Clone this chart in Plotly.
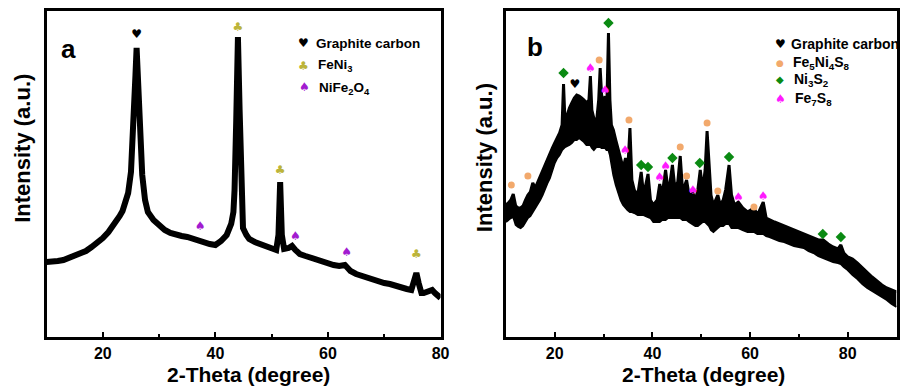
import plotly.graph_objects as go

# ---------------- Panel a data (2-theta, intensity a.u.) ----------------
a_theta = [10, 11, 12, 13, 14, 15, 16, 17, 18, 19, 20, 21, 22, 23, 23.5, 24, 24.5, 25,
           25.5, 25.8, 26.0, 26.2, 26.5, 27.0, 27.5, 28.0, 29, 30, 31, 32, 33, 34, 35,
           36, 37, 38, 39, 40, 41, 42, 42.8, 43.2, 43.4, 43.7, 44.0, 44.3, 44.6, 44.9,
           45.5, 46, 47, 48, 49, 50, 50.8, 51.2, 51.5, 51.8, 52.2, 53, 53.6, 54.2, 55,
           56, 57, 58, 59, 60, 61, 62, 63, 63.5, 64, 65, 66, 67, 68, 69, 70, 71, 72,
           73, 74, 74.8, 75.3, 75.7, 76.1, 76.6, 77, 78, 78.5, 79, 80]
a_int = [75, 75, 76, 77, 79, 81, 83, 86, 90, 94, 99, 105, 112, 121, 126, 133, 144, 165,
         212, 262, 289, 262, 212, 162, 137, 125, 117, 111, 107, 104, 102, 101, 100,
         98, 97, 95, 93, 92, 96, 102, 113, 125, 147, 217, 300, 227, 142, 109,
         102, 98, 95, 93, 91, 88, 87, 102, 155, 102, 88, 89, 91, 87, 83,
         81, 79, 77, 75, 73, 72, 71, 72, 69, 66, 63, 61, 59, 58, 56, 54, 53, 51,
         50, 48, 47, 55, 64, 54, 44, 44, 47, 47, 44, 39]

a_graphite = {"theta": [26.0], "int": [302]}
a_feni3 = {"theta": [44.0, 51.5, 75.7], "int": [309, 166, 82]}
a_nife2o4 = {"theta": [37.3, 54.2, 63.3], "int": [110, 100, 84]}

# ---------------- Panel b data: upper and lower edge of the noisy trace ----------------
b_theta = [10.0, 10.5, 11.0, 11.5, 12.0, 12.5, 13.0, 13.5, 14.0, 14.5, 15.0, 15.5, 16.0,
           16.5, 17.0, 17.5, 18.0, 18.5, 19.0, 19.5, 20.0, 20.5, 21.0, 21.5, 21.8, 22.1,
           22.5, 23.0, 23.5, 24.0, 24.5, 25.0, 25.5, 26.0, 26.5, 27.0, 27.3, 27.6, 28.0,
           28.5, 29.0, 29.3, 29.6, 30.0, 30.3, 30.6, 31.0, 31.3, 31.6, 32.0, 32.5, 33.0,
           33.5, 34.0, 34.5, 34.9, 35.4, 35.8, 36.3, 37.0, 37.7, 38.2, 39.1, 39.6, 40.2,
           41.0, 41.5, 42.0, 42.7, 43.2, 43.6, 44.1, 44.6, 45.2, 45.7, 46.2, 47.0, 47.5,
           48.3, 48.8, 49.3, 49.8, 50.3, 50.8, 51.2, 51.6, 52.0, 52.5, 53.4, 53.9, 54.5,
           55.0, 55.7, 56.2, 56.8, 57.6, 58.5, 59.5, 60.8, 61.5, 62.7, 63.3, 64, 65, 66,
           67, 68, 69, 70, 71, 72, 73, 74, 75, 76, 77, 78, 78.6, 79.2, 80, 81, 82, 83, 84,
           85, 86, 87, 88, 89, 90]
b_upper = [132, 134, 137, 143, 131, 129, 129, 131, 137, 142, 145, 154, 149,
           155, 161, 167, 173, 179, 184, 189, 194, 199, 204, 212, 253, 215,
           222, 229, 234, 239, 242, 241, 239, 237, 234, 237, 261, 227, 219,
           212, 237, 269, 242, 227, 241, 217, 304, 237, 212, 207, 197, 187,
           177, 169, 179, 162, 209, 157, 147, 142, 165, 142, 163, 137, 132,
           137, 153, 142, 167, 147, 154, 172, 149, 155, 181, 145, 157, 142,
           144, 137, 147, 167, 147, 167, 206, 167, 142, 132, 142, 132, 137,
           147, 172, 142, 132, 135, 129, 125, 129, 122, 135, 119, 117, 115, 113,
           111, 109, 107, 105, 103, 101, 99, 97, 97, 93, 90, 88, 92, 84, 80, 78, 74,
           69, 64, 60, 56, 52, 49, 47, 45]
b_lower = [115, 117, 119, 120, 112, 110, 109, 111, 115, 119, 121, 125, 129,
           132, 137, 142, 149, 154, 159, 167, 174, 179, 182, 187, 189, 190,
           191, 192, 194, 197, 197, 199, 197, 195, 192, 192, 192, 189, 187,
           190, 190, 190, 189, 189, 189, 187, 187, 182, 172, 162, 152, 144,
           137, 132, 129, 127, 125, 125, 124, 122, 122, 122, 120, 119, 115,
           115, 115, 117, 117, 119, 119, 119, 119, 119, 119, 117, 117, 115,
           113, 111, 111, 113, 115, 115, 113, 111, 107, 105, 109, 111, 111,
           113, 113, 109, 109, 109, 107, 105, 105, 103, 103, 101, 100, 98, 96,
           95, 93, 91, 90, 89, 86, 84, 81, 79, 77, 75, 74, 73, 70, 67, 62, 58, 53, 49,
           46, 43, 40, 37, 33, 30]

b_graphite = {"theta": [24.1], "int": [252]}
b_fe5ni4s8 = {"theta": [11.1, 14.5, 29.1, 35.2, 45.7, 47.0, 51.2, 53.4, 60.8],
              "int": [152, 161, 277, 217, 190, 161, 214, 146, 130]}
b_ni3s2 = {"theta": [21.8, 31.0, 37.7, 39.1, 44.1, 49.7, 55.7, 74.9, 78.6],
           "int": [264, 314, 172, 170, 179, 174, 180, 103, 100]}
b_fe7s8 = {"theta": [27.3, 30.3, 34.4, 41.5, 42.7, 48.3, 57.6, 62.7],
           "int": [268, 246, 186, 159, 170, 146, 139, 140]}

x_ticks = [20, 40, 60, 80]

# ---------------- styling ----------------
W, H = 907, 387
FONT = "Arial, Liberation Sans, sans-serif"
SYMFONT = "DejaVu Sans"
C_CLUB = "#bcb43a"
C_PURPLE = "#a21bd0"
C_ORANGE = "#f2a96c"
C_GREEN = "#0a8a12"
C_MAGENTA = "#ff1aff"

def px(x):
    return x / W

def py(y):
    return 1 - y / H

fig = go.Figure()

# traces panel a
fig.add_trace(go.Scatter(x=a_theta, y=a_int, mode="lines", line=dict(color="black", width=6),
                         xaxis="x", yaxis="y", showlegend=False, hoverinfo="skip"))

def glyphs(d, ch, color, size, xa, ya):
    fig.add_trace(go.Scatter(x=d["theta"], y=d["int"], mode="text", text=[ch] * len(d["theta"]),
                             textposition="middle center",
                             textfont=dict(family=SYMFONT, size=size, color=color),
                             xaxis=xa, yaxis=ya, showlegend=False, hoverinfo="skip"))

def marks(d, symbol, color, size, xa, ya):
    fig.add_trace(go.Scatter(x=d["theta"], y=d["int"], mode="markers",
                             marker=dict(symbol=symbol, color=color, size=size, line=dict(width=0)),
                             xaxis=xa, yaxis=ya, showlegend=False, hoverinfo="skip"))

glyphs(a_graphite, "♥", "black", 12, "x", "y")
glyphs(a_feni3, "♣", C_CLUB, 12, "x", "y")
glyphs(a_nife2o4, "♠", C_PURPLE, 12, "x", "y")

# panel b: noisy band between lower and upper edges
fig.add_trace(go.Scatter(x=b_theta, y=b_lower, mode="lines", line=dict(color="black", width=2),
                         xaxis="x2", yaxis="y2", showlegend=False, hoverinfo="skip"))
fig.add_trace(go.Scatter(x=b_theta, y=b_upper, mode="lines", line=dict(color="black", width=3),
                         fill="tonexty", fillcolor="black",
                         xaxis="x2", yaxis="y2", showlegend=False, hoverinfo="skip"))
glyphs(b_graphite, "♥", "black", 12, "x2", "y2")
marks(b_fe5ni4s8, "circle", C_ORANGE, 7, "x2", "y2")
marks(b_ni3s2, "diamond", C_GREEN, 8, "x2", "y2")
glyphs(b_fe7s8, "♠", C_MAGENTA, 12, "x2", "y2")

ydom = [py(337), py(11)]
axis_common = dict(showline=True, linecolor="black", linewidth=2.5, mirror=True,
                   showgrid=False, zeroline=False)
xcommon = dict(axis_common, ticks="inside", ticklen=5, tickwidth=2, tickcolor="black",
               tickvals=x_ticks, ticktext=[str(t) for t in x_ticks],
               tickfont=dict(family=FONT, size=16, color="black", weight="bold"),
               minor=dict(ticks="inside", ticklen=3, tickwidth=1.5, tickcolor="black",
                          dtick=10, tick0=0, showgrid=False))
ycommon = dict(axis_common, showticklabels=False, ticks="", range=[0, 326])

fig.update_layout(
    width=W, height=H, margin=dict(l=0, r=0, t=0, b=0),
    paper_bgcolor="white", plot_bgcolor="white",
    xaxis=dict(xcommon, domain=[px(47), px(445)], range=[10, 80], anchor="y"),
    yaxis=dict(ycommon, domain=ydom, anchor="x"),
    xaxis2=dict(xcommon, domain=[px(511), px(905.5)], range=[10, 90], anchor="y2"),
    yaxis2=dict(ycommon, domain=ydom, anchor="x2"),
)

ann = []
def text(x, y, s, size, angle=0, xanchor="center", color="black", family=FONT):
    ann.append(dict(x=px(x), y=py(y), xref="paper", yref="paper", text=s, showarrow=False,
                    textangle=angle, xanchor=xanchor, yanchor="middle",
                    font=dict(family=family, size=size, color=color)))

# axis titles
text(22, 148, "<b>Intensity (a.u.)</b>", 22, angle=-90)
text(489, 158, "<b>Intensity (a.u.)</b>", 22, angle=-90)
text(251, 374, "<b>2-Theta (degree)</b>", 21)
text(711, 374, "<b>2-Theta (degree)</b>", 21)
# panel letters
text(69, 49, "<b>a</b>", 26)
text(540, 47, "<b>b</b>", 26)

# legend panel a
text(307, 43, "♥", 12, family=SYMFONT)
text(317, 43, "<b>Graphite carbon</b>", 13.5, xanchor="left")
text(307, 66, "♣", 12, color=C_CLUB, family=SYMFONT)
text(319, 66, "<b>FeNi<sub>3</sub></b>", 13.5, xanchor="left")
text(308, 87, "♠", 12, color=C_PURPLE, family=SYMFONT)
text(320, 88, "<b>NiFe<sub>2</sub>O<sub>4</sub></b>", 13.5, xanchor="left")

# legend panel b
text(788, 44, "♥", 12, family=SYMFONT)
text(797, 44, "<b>Graphite carbon</b>", 14, xanchor="left")
text(788, 63, "●", 9, color=C_ORANGE, family=SYMFONT)
text(799, 63, "<b>Fe<sub>5</sub>Ni<sub>4</sub>S<sub>8</sub></b>", 14, xanchor="left")
text(788, 79, "◆", 10, color=C_GREEN, family=SYMFONT)
text(800, 80, "<b>Ni<sub>3</sub>S<sub>2</sub></b>", 14, xanchor="left")
text(788, 99, "♠", 12, color=C_MAGENTA, family=SYMFONT)
text(801, 99, "<b>Fe<sub>7</sub>S<sub>8</sub></b>", 14, xanchor="left")

fig.update_layout(annotations=ann)
fig.write_html("out.html", config={"displayModeBar": False},
               post_script="document.body.style.margin='0px';document.body.style.overflow='hidden';")
